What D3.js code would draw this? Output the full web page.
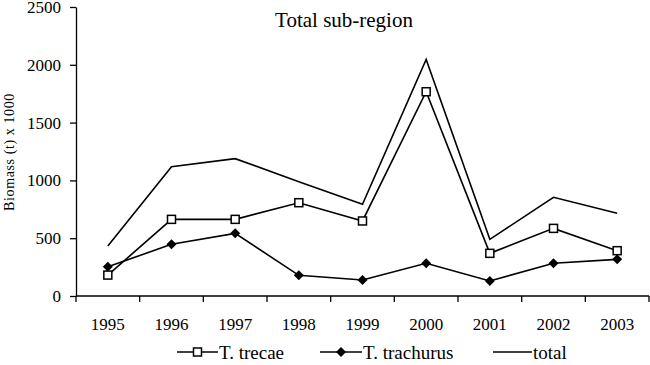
<!DOCTYPE html>
<html>
<head>
<meta charset="utf-8">
<script src="https://cdn.jsdelivr.net/npm/d3@7"></script>
<style>
  body { margin: 0; background: #fff; }
  text { font-family: "Liberation Serif", "Times New Roman", serif; fill: #000; }
</style>
</head>
<body>
<div id="chart"></div>
<script>
const years = ['1995', '1996', '1997', '1998', '1999', '2000', '2001', '2002', '2003'];
const trecae = [181, 663, 663, 807, 649, 1767, 369, 585, 392];
const trachurus = [253, 447, 542, 179, 138, 283, 130, 283, 317];
const total = [432, 1118, 1188, 989, 793, 2047, 490, 854, 715];
const yTicks = [0, 500, 1000, 1500, 2000, 2500];

const width = 650, height = 365;
const margin = {top: 7, right: 1, bottom: 69, left: 76};

const svg = d3.select('#chart').append('svg')
  .attr('width', width)
  .attr('height', height);

const x = d3.scaleBand()
  .domain(years)
  .range([margin.left, width - margin.right]);

const y = d3.scaleLinear()
  .domain([0, 2500])
  .range([height - margin.bottom, margin.top]);

// y axis
svg.append('g')
  .attr('transform', `translate(${ margin.left },0)`)
  .call(d3.axisLeft(y).tickValues(yTicks).tickFormat(d3.format('d')).tickSize(6).tickPadding(9).tickSizeOuter(0))
  .attr('font-family', null)
  .call(g => g.selectAll('path, line').attr('stroke', '#000').attr('stroke-width', 1.3))
  .selectAll('text')
  .attr('font-size', 17);

// x axis, ticks on band edges
const xAxis = svg.append('g')
  .attr('transform', `translate(0,${ height - margin.bottom })`);
xAxis.append('line')
  .attr('x1', margin.left).attr('x2', width - margin.right)
  .attr('stroke', '#000').attr('stroke-width', 1.3);
xAxis.selectAll('line.tk')
  .data(years.concat(['end']))
  .enter().append('line')
  .attr('class', 'tk')
  .attr('x1', (d, i) => i < years.length ? x(d) : x(years[years.length - 1]) + x.bandwidth())
  .attr('x2', (d, i) => i < years.length ? x(d) : x(years[years.length - 1]) + x.bandwidth())
  .attr('y1', 0).attr('y2', 6)
  .attr('stroke', '#000').attr('stroke-width', 1.3);
xAxis.selectAll('text')
  .data(years)
  .enter().append('text')
  .attr('x', d => x(d) + x.bandwidth() / 2)
  .attr('y', 34)
  .attr('text-anchor', 'middle')
  .attr('font-size', 17)
  .text(d => d);

// title
svg.append('text')
  .attr('x', 344)
  .attr('y', 27)
  .attr('text-anchor', 'middle')
  .attr('font-size', 21)
  .text('Total sub-region');

// y label
svg.append('text')
  .attr('transform', 'translate(14,152) rotate(-90)')
  .attr('text-anchor', 'middle')
  .attr('font-size', 14)
  .attr('letter-spacing', 0.6)
  .text('Biomass (t) x 1000');

const line = d3.line()
  .x((d, i) => x(years[i]) + x.bandwidth() / 2)
  .y(d => y(d));

[total, trecae, trachurus].forEach(s => {
  svg.append('path')
    .datum(s)
    .attr('fill', 'none')
    .attr('stroke', '#000')
    .attr('stroke-width', 1.6)
    .attr('d', line);
});

// square diamond (rotated square)
const diamond = d3.symbol().type(d3.symbolSquare).size(50);

svg.append('g').selectAll('path')
  .data(trachurus)
  .enter().append('path')
  .attr('transform', (d, i) => `translate(${ x(years[i]) + x.bandwidth() / 2 },${ y(d) }) rotate(45)`)
  .attr('d', diamond)
  .attr('fill', '#000');

svg.append('g').selectAll('rect')
  .data(trecae)
  .enter().append('rect')
  .attr('x', (d, i) => x(years[i]) + x.bandwidth() / 2 - 4)
  .attr('y', d => y(d) - 4)
  .attr('width', 8)
  .attr('height', 8)
  .attr('fill', '#fff')
  .attr('stroke', '#000')
  .attr('stroke-width', 1.5);

// legend
const legendY = 352;
const legendItems = [
  {label: 'T. trecae', x1: 177, x2: 218, marker: 'square'},
  {label: 'T. trachurus', x1: 320, x2: 362, marker: 'diamond'},
  {label: 'total', x1: 493, x2: 532, marker: 'none'}
];
const lg = svg.append('g');
legendItems.forEach(item => {
  lg.append('line')
    .attr('x1', item.x1).attr('x2', item.x2)
    .attr('y1', legendY).attr('y2', legendY)
    .attr('stroke', '#000').attr('stroke-width', 1.6);
  const cx = (item.x1 + item.x2) / 2;
  if (item.marker === 'square') {
    lg.append('rect')
      .attr('x', cx - 4).attr('y', legendY - 4)
      .attr('width', 8).attr('height', 8)
      .attr('fill', '#fff').attr('stroke', '#000').attr('stroke-width', 1.5);
  } else if (item.marker === 'diamond') {
    lg.append('path')
      .attr('transform', `translate(${ cx },${ legendY }) rotate(45)`)
      .attr('d', diamond)
      .attr('fill', '#000');
  }
  lg.append('text')
    .attr('x', item.x2 + 1)
    .attr('y', legendY + 7)
    .attr('font-size', 19)
    .text(item.label);
});
</script>
</body>
</html>
